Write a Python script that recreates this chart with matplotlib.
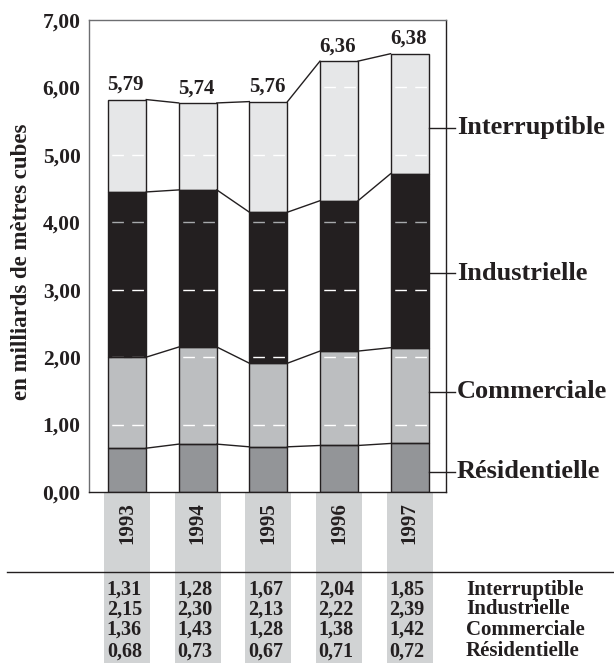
import matplotlib
matplotlib.use("Agg")
import matplotlib.pyplot as plt
from matplotlib.transforms import blended_transform_factory
from matplotlib.patches import Rectangle

# ---------------- data ----------------
years = ["1993", "1994", "1995", "1996", "1997"]
series_names = ["Résidentielle", "Commerciale", "Industrielle", "Interruptible"]
# segment heights as drawn in the chart (milliards de m³)
residentielle = [0.65, 0.71, 0.67, 0.69, 0.72]
commerciale = [1.35, 1.44, 1.24, 1.40, 1.42]
industrielle = [2.45, 2.33, 2.24, 2.23, 2.58]
interruptible = [1.37, 1.29, 1.64, 2.07, 1.78]
# printed totals above bars
total_labels = ["5,79", "5,74", "5,76", "6,36", "6,38"]
# printed table under the chart
table_rows = ["Interruptible", "Industrielle", "Commerciale", "Résidentielle"]
table_interruptible = ["1,31", "1,28", "1,67", "2,04", "1,85"]
table_industrielle = ["2,15", "2,30", "2,13", "2,22", "2,39"]
table_commerciale = ["1,36", "1,43", "1,28", "1,38", "1,42"]
table_residentielle = ["0,68", "0,73", "0,67", "0,71", "0,72"]
ytick_values = [0, 1, 2, 3, 4, 5, 6, 7]
ytick_labels = ["0,00", "1,00", "2,00", "3,00", "4,00", "5,00", "6,00", "7,00"]
ylabel = "en milliards de mètres cubes"

# ---------------- style ----------------
plt.rcParams["font.family"] = ["Liberation Serif", "DejaVu Serif"]
plt.rcParams["font.weight"] = "bold"
DARK = "#231f20"
colors = ["#939598", "#bcbec0", "#231f20", "#e6e7e8"]
BOX = "#d1d3d4"
W = 614
H = 663

fig = plt.figure(figsize=(W / 100, H / 100), dpi=100)
ax = fig.add_axes([89 / W, 1 - 492 / H, (446 - 89) / W, (492 - 20) / H])
ax.set_xlim(-0.541, 4.515)
ax.set_ylim(0, 7)

x = list(range(len(years)))
bw = 0.54
segments = [residentielle, commerciale, industrielle, interruptible]

bottoms = [0.0] * len(years)
levels = []
for seg, col in zip(segments, colors):
    ax.bar(x, seg, bw, bottom=bottoms, color=col, edgecolor="none", zorder=1)
    bottoms = [b + s for b, s in zip(bottoms, seg)]
    levels.append(list(bottoms))
totals = bottoms

# dashed grid inside the bars
for yv in ytick_values[1:-1]:
    gcol = "#a7a9ac" if yv == 4 else "white"
    for xi, t in zip(x, totals):
        if yv < t:
            ax.hlines(yv, xi - bw / 2, xi + bw / 2, colors=gcol, lw=1.0,
                      linestyles=[(11.7, (8.4, 6.0))], zorder=1.5)

# bar outlines
bottoms = [0.0] * len(years)
for seg in segments:
    ax.bar(x, seg, bw, bottom=bottoms, fill=False, edgecolor=DARK, lw=1.0, zorder=2)
    bottoms = [b + s for b, s in zip(bottoms, seg)]

# connectors
for lev in levels:
    for i in range(len(x) - 1):
        ax.plot([x[i] + bw / 2, x[i + 1] - bw / 2], [lev[i], lev[i + 1]],
                color=DARK, lw=1.0, zorder=3)

# totals above bars
for xi, t, lab in zip(x, totals, total_labels):
    ax.annotate(lab, (xi, t), xytext=(-1, 7), textcoords="offset points",
                ha="center", va="baseline", fontsize=15, fontweight="bold", color=DARK)

# axes styling
ax.set_xticks([])
ax.set_yticks(ytick_values)
ax.set_yticklabels(ytick_labels, fontsize=15.5, fontweight="bold", color=DARK)
ax.tick_params(axis="y", length=0, pad=6)
for side, c in [("left", "#6d6e71"), ("top", "#6d6e71"), ("right", DARK), ("bottom", DARK)]:
    ax.spines[side].set_color(c)
    ax.spines[side].set_linewidth(1.0)

fig.text(22 / W, 1 - 262 / H, ylabel, rotation=90, ha="center", va="center",
         fontsize=16.5, fontweight="bold", color=DARK)

# right-hand series labels
label_y = [0.30, 1.488, 3.245, 5.405]
x_edge = x[-1] + bw / 2
for name, ly in zip(series_names, label_y):
    ax.plot([x_edge, 4.643], [ly, ly], color=DARK, lw=1.0, clip_on=False, zorder=3)
    ax.text(4.671, ly, name, ha="left", va="center", fontsize=19,
            fontweight="bold", color=DARK, clip_on=False)

# year boxes and labels under the chart
bt = blended_transform_factory(ax.transData, fig.transFigure)
box_w = 0.652
for xi, yr in zip(x, years):
    r = Rectangle((xi - box_w / 2, 0), box_w, 1 - 493 / H, transform=bt,
                  facecolor=BOX, edgecolor="none", clip_on=False, zorder=0)
    ax.add_patch(r)
    ax.text(xi, 1 - 523 / H, yr, transform=bt, rotation=90, ha="center", va="center",
            fontsize=15, fontweight="bold", color=DARK, clip_on=False, zorder=5)

# horizontal separator line
ax.add_line(plt.Line2D([7 / W, 1.0], [1 - 571.7 / H, 1 - 571.7 / H],
                       color=DARK, lw=1.0, transform=fig.transFigure,
                       clip_on=False, zorder=4))

# table
row_y = [589.5, 609.5, 630.0, 651.5]
table = [table_interruptible, table_industrielle, table_commerciale, table_residentielle]
for ry, name, vals in zip(row_y, table_rows, table):
    yf = 1 - ry / H
    for xi, v in zip(x, vals):
        ax.annotate(v, (xi, yf), xycoords=bt, xytext=(-2, 0), textcoords="offset points",
                    ha="center", va="center", fontsize=14.5, fontweight="bold",
                    color=DARK, annotation_clip=False, zorder=5)
    fig.text(466 / W, yf, name, ha="left", va="center", fontsize=15,
             fontweight="bold", color=DARK)

fig.savefig("out.png", dpi=100, facecolor="white")
